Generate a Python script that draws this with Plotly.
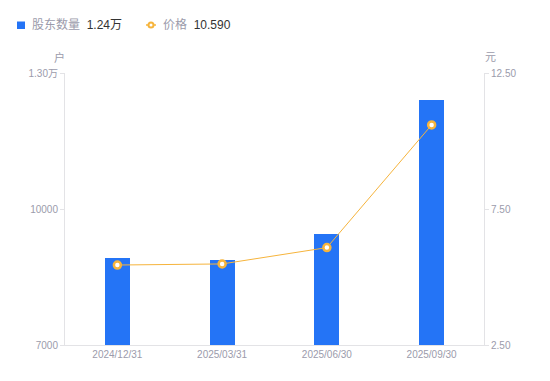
import plotly.graph_objects as go

categories = ["2024/12/31", "2025/03/31", "2025/06/30", "2025/09/30"]
holders = [8920, 8870, 9450, 12400]
price = [5.44, 5.48, 6.08, 10.59]

left_tickvals = [7000, 10000, 13000]
left_ticktext = ["7000", "10000", "1.30万"]
right_tickvals = [2.5, 7.5, 12.5]
right_ticktext = ["2.50", "7.50", "12.50"]

BLUE = "#2474f6"
ORANGE = "#f6b43c"
GRAY = "#9b9bab"
AXIS = "#e3e3e6"
FONT = "Liberation Sans, Noto Sans CJK SC, sans-serif"

OFF = 8  # default page body margin
W, H = 550 - OFF, 381 - OFF
L, T = 65 - OFF, 73 - OFF
R = W - (484 - OFF)
B = H - (345 - OFF)
pw, ph = W - L - R, H - T - B

def px(x):
    return (x - OFF - L) / pw

def py(y):
    return (H - B - (y - OFF)) / ph

fig = go.Figure()
fig.add_trace(go.Bar(x=categories, y=holders, marker_color=BLUE, width=0.24,
                     marker_line_width=0, name="股东数量", yaxis="y"))
fig.add_trace(go.Scatter(x=categories, y=price, mode="lines+markers", yaxis="y2",
                         line=dict(color=ORANGE, width=1),
                         marker=dict(size=7, color="white", line=dict(color=ORANGE, width=2.5)),
                         name="价格"))

fig.update_layout(
    width=W, height=H, margin=dict(l=L, r=R, t=T, b=B),
    paper_bgcolor="white", plot_bgcolor="white", showlegend=False,
    font=dict(family=FONT, size=11, color=GRAY),
    xaxis=dict(type="category", range=[-0.5, 3.5], showgrid=False, showline=True,
               linecolor=AXIS, linewidth=1, ticks="", tickfont=dict(size=10, color=GRAY)),
    yaxis=dict(range=[7000, 13000], tickvals=left_tickvals, ticktext=left_ticktext,
               showgrid=False, zeroline=False, showline=True, linecolor=AXIS, linewidth=1,
               ticks="outside", ticklen=4, tickcolor=AXIS, tickfont=dict(size=10, color=GRAY)),
    yaxis2=dict(range=[2.5, 12.5], tickvals=right_tickvals, ticktext=right_ticktext,
                overlaying="y", side="right", showgrid=False, zeroline=False, showline=True,
                linecolor=AXIS, linewidth=1, ticks="outside", ticklen=4, tickcolor=AXIS,
                tickfont=dict(size=10, color=GRAY)),
    bargap=0,
)

shapes = [
    dict(type="rect", xref="paper", yref="paper", x0=px(17), x1=px(25), y0=py(29), y1=py(21.5),
         fillcolor=BLUE, line=dict(width=0)),
    dict(type="line", xref="paper", yref="paper", x0=px(146), x1=px(156), y0=py(25), y1=py(25),
         line=dict(color=ORANGE, width=1.5)),
    dict(type="circle", xref="paper", yref="paper", x0=px(148.5), x1=px(153.5), y0=py(27.5), y1=py(22.5),
         fillcolor="white", line=dict(color=ORANGE, width=2)),
]
fig.update_layout(shapes=shapes)

annots = [
    dict(text="股东数量 <span style='color:#333333'> 1.24万</span>", x=px(30), y=py(25)),
    dict(text="价格 <span style='color:#333333'> 10.590</span>", x=px(161), y=py(25)),
]
for a in annots:
    fig.add_annotation(text=a["text"], x=a["x"], y=a["y"], xref="paper", yref="paper",
                       xanchor="left", yanchor="middle", showarrow=False,
                       font=dict(size=12, color=GRAY, family=FONT))
fig.add_annotation(text="户", x=px(59), y=py(57), xref="paper", yref="paper",
                   showarrow=False, xanchor="center", yanchor="middle",
                   font=dict(size=11, color=GRAY, family=FONT))
fig.add_annotation(text="元", x=px(490), y=py(57), xref="paper", yref="paper",
                   showarrow=False, xanchor="center", yanchor="middle",
                   font=dict(size=11, color=GRAY, family=FONT))

fig.write_html("out.html")
